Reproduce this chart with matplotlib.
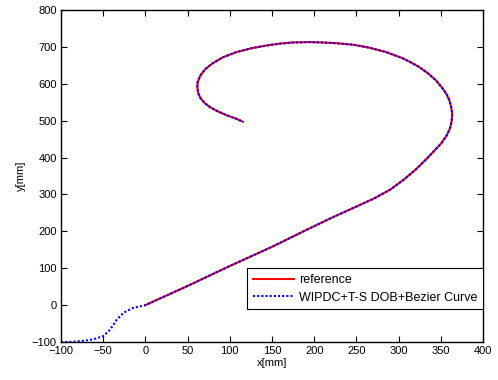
import matplotlib
matplotlib.use("Agg")
import matplotlib.pyplot as plt
import numpy as np

plt.rcParams['font.family'] = ['Liberation Sans', 'DejaVu Sans']

# reference trajectory (mm)
ref_x = [0, 50, 100, 150, 190, 220, 245, 270, 290, 306, 320, 333, 343, 351, 357, 361, 363, 363.5, 362, 360,
         356.5, 352, 344, 334.4, 324, 313.7, 304, 285, 265, 246, 226, 210, 194, 175, 160, 147, 127, 108, 92, 80,
         71, 65, 62, 61.5, 62.5, 65, 70, 77, 86, 97, 108, 115.5]
ref_y = [0, 52, 106, 158, 203, 236, 262, 288, 313, 340, 367, 396, 420, 440, 460, 480, 500, 520, 540, 556,
         573, 588, 610, 629, 646, 659, 670, 686, 698, 706, 710, 712, 713, 712, 709, 705, 697, 686, 672, 656,
         640, 622, 605, 592, 575, 562, 548, 536, 525, 514, 505, 497]

# approach segment of the controlled trajectory (before joining the reference)
app_x = [-100, -87, -74, -62, -50, -42, -34, -26, -15]
app_y = [-100, -99.5, -97, -93, -84, -67, -40, -21, -8]

ctl_x = app_x + ref_x
ctl_y = app_y + ref_y

fig = plt.figure(figsize=(4.98, 3.80), dpi=100)
ax = fig.add_axes([61/498, 1-342/380, 422/498, 332/380])

ax.plot(ref_x, ref_y, color='#ff0000', lw=1.5, label='reference')
ax.plot(ctl_x, ctl_y, color='#0000ff', lw=1.5, linestyle=(0, (1, 1)), label='WIPDC+T-S DOB+Bezier Curve')

ax.set_xlim(-100, 400)
ax.set_ylim(-100, 800)
ax.set_xticks(np.arange(-100, 401, 50))
ax.set_yticks(np.arange(-100, 801, 100))
ax.tick_params(direction='in', length=4, width=0.8, top=True, right=True, labelsize=8, pad=3, colors='black')
for s in ax.spines.values():
    s.set_linewidth(1.0)
ax.set_xlabel('x[mm]', fontsize=8, labelpad=1)
ax.set_ylabel('y[mm]', fontsize=8, labelpad=4)

leg = ax.legend(loc='lower right', bbox_to_anchor=(1.0, 0.0985), borderaxespad=0, fontsize=9,
                fancybox=False, edgecolor='black', framealpha=1, handlelength=3.3, handletextpad=0.4,
                borderpad=0.45, labelspacing=0.45)
leg.get_frame().set_linewidth(0.8)

fig.savefig('out.png', dpi=100)
